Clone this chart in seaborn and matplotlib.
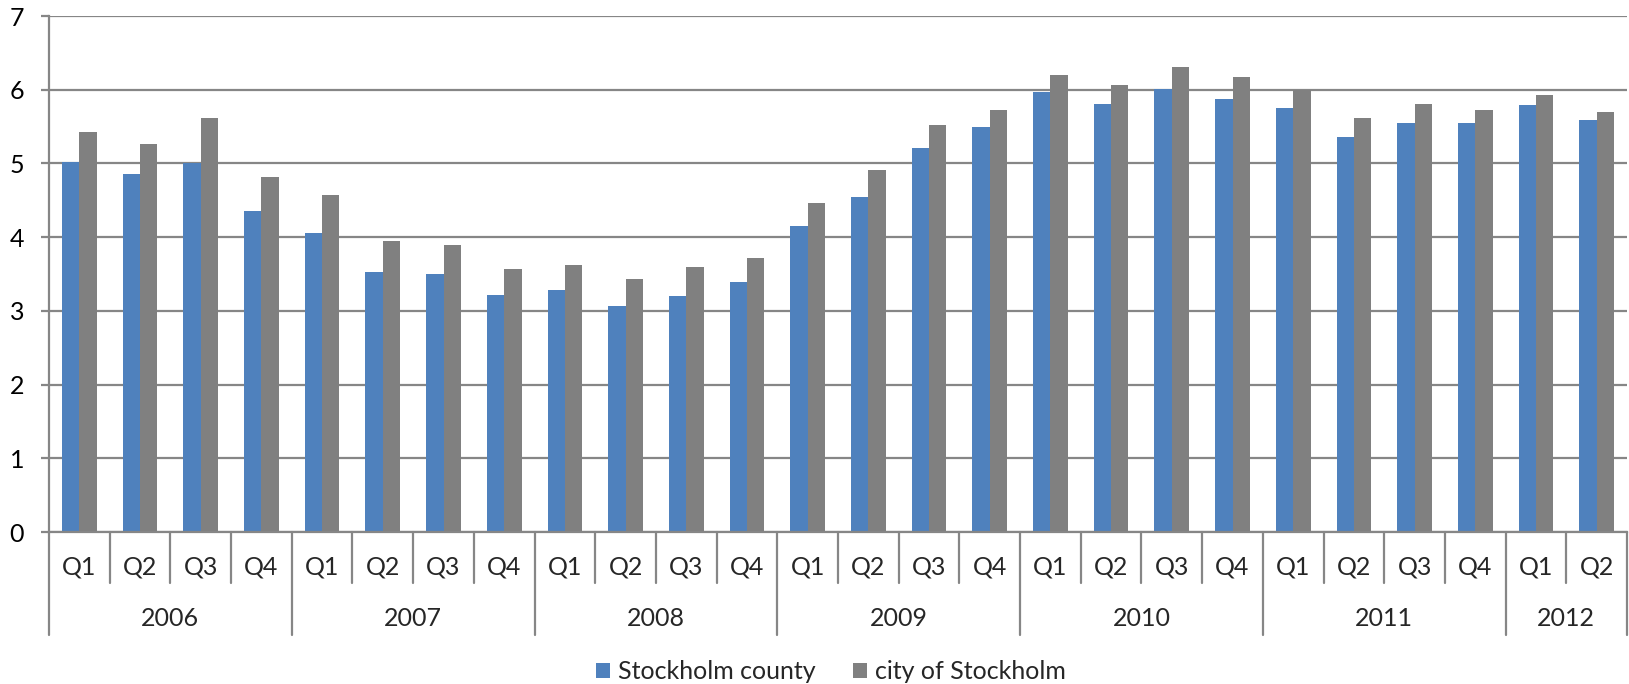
import numpy as np
import pandas as pd
import matplotlib
matplotlib.use("Agg")
import matplotlib.pyplot as plt
import matplotlib.transforms as mtransforms
import seaborn as sns

# =====================================
# DATA
# =====================================
years = ["2006", "2007", "2008", "2009", "2010", "2011", "2012"]
quarters_per_year = [4, 4, 4, 4, 4, 4, 2]
quarter_names = ["Q1", "Q2", "Q3", "Q4"]

county = [5.02, 4.85, 5.00, 4.36,
          4.05, 3.53, 3.50, 3.22,
          3.28, 3.07, 3.20, 3.39,
          4.15, 4.54, 5.21, 5.49,
          5.97, 5.80, 6.01, 5.88,
          5.75, 5.36, 5.55, 5.55,
          5.79, 5.59]
city = [5.43, 5.27, 5.61, 4.81,
        4.57, 3.95, 3.90, 3.57,
        3.62, 3.43, 3.59, 3.72,
        4.46, 4.91, 5.52, 5.73,
        6.20, 6.07, 6.31, 6.17,
        6.00, 5.61, 5.80, 5.73,
        5.93, 5.70]
series_names = ["Stockholm county", "city of Stockholm"]

# =====================================
# BUILD TABLE
# =====================================
quarter_labels = []
periods = []
for y, n in zip(years, quarters_per_year):
    for q in quarter_names[:n]:
        quarter_labels.append(q)
        periods.append(y + " " + q)

df = pd.DataFrame({
    "period": periods * 2,
    "series": [series_names[0]] * len(periods) + [series_names[1]] * len(periods),
    "value": county + city,
})

# =====================================
# STYLE
# =====================================
sns.set_style("white")
plt.rcParams["font.family"] = ["Lato", "DejaVu Sans"]
grid_color = "#868686"
font_size = 18

fig = plt.figure(figsize=(16.29, 6.84), dpi=100)
ax = fig.add_axes([49 / 1629, 1 - 532 / 684, (1627 - 49) / 1629, (532 - 16) / 684])

sns.barplot(
    data=df, x="period", y="value", hue="series",
    palette=["#4F81BD", "#808080"], saturation=1,
    width=2 / 3.5, gap=0, ax=ax, edgecolor="none", linewidth=0,
)

n = len(periods)
ax.set_xlim(-0.5, n - 0.5)
ax.set_ylim(0, 7)
ax.set_yticks(range(0, 8))
ax.set_axisbelow(True)
ax.yaxis.grid(True, color=grid_color, linewidth=1.6)
ax.xaxis.grid(False)
ax.set_xlabel("")
ax.set_ylabel("")
ax.set_xticks([])

for side in ["top", "right"]:
    ax.spines[side].set_visible(False)
for side in ["left", "bottom"]:
    ax.spines[side].set_color(grid_color)
    ax.spines[side].set_linewidth(1.6)

ax.tick_params(axis="y", which="both", left=True, length=6, width=1.6,
               color=grid_color, pad=12, labelsize=font_size, labelcolor="black")

# =====================================
# MULTI-LEVEL CATEGORY AXIS
# =====================================
trans = mtransforms.blended_transform_factory(ax.transData, ax.transAxes)
ax_h = 532 - 16
q_sep = -51 / ax_h
y_sep = -103 / ax_h
q_lab = -35 / ax_h
y_lab = -86 / ax_h

year_edges = np.concatenate([[0], np.cumsum(quarters_per_year)])
for i in range(n + 1):
    bottom = y_sep if i in year_edges else q_sep
    ax.plot([i - 0.5, i - 0.5], [0, bottom], transform=trans,
            color=grid_color, linewidth=1.6, clip_on=False)

for i, q in enumerate(quarter_labels):
    ax.text(i, q_lab, q, transform=trans, ha="center", va="center",
            fontsize=font_size)

for k, y in enumerate(years):
    mid = (year_edges[k] + year_edges[k + 1]) / 2 - 0.5
    ax.text(mid, y_lab, y, transform=trans, ha="center", va="center",
            fontsize=font_size)

# =====================================
# LEGEND
# =====================================
ax.legend_.remove()
handles, labels = ax.get_legend_handles_labels()
fig.legend(
    handles, labels, loc="center", bbox_to_anchor=(0.51, 0.018),
    ncol=2, frameon=False, fontsize=font_size,
    handlelength=0.57, handleheight=0.57, handletextpad=0.3,
    columnspacing=1.5, borderaxespad=0, borderpad=0,
)

fig.savefig("out.png", dpi=100)
